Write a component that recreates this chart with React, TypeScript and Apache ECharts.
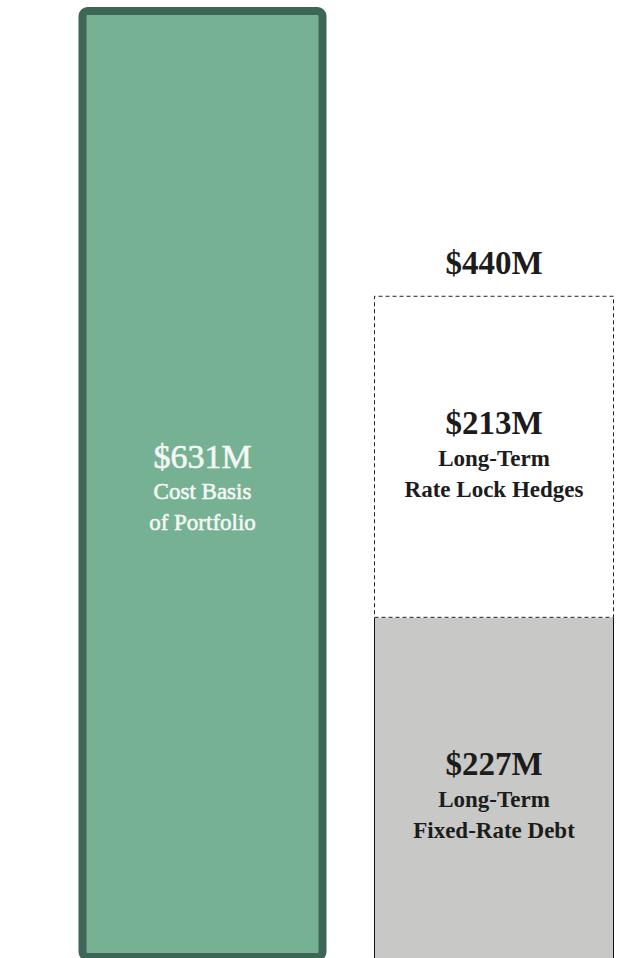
import React, { useEffect, useRef } from "react";
import * as echarts from "echarts";

const categories = ["Portfolio", "Capital"];
const portfolioValues: (number | string)[] = [631, "-"];
const fixedDebtValues: (number | string)[] = ["-", 227];
const hedgeValues: (number | string)[] = ["-", 213];
const portfolioLabel = ["$631M", "Cost Basis", "of Portfolio"];
const fixedDebtLabel = ["$227M", "Long-Term", "Fixed-Rate Debt"];
const hedgeLabel = ["$213M", "Long-Term", "Rate Lock Hedges"];

const FONT = "'Liberation Serif', 'DejaVu Serif', serif";
const GREEN_W = 248;
const RIGHT_W = 240;

function richLabel(lines: string[], color: string, weight: string, vSize: number, sSize: number, emb: number) {
  const extra = emb > 0 ? { textBorderColor: color, textBorderWidth: emb } : {};
  return {
    text: `{v|${lines[0]}}\n{s|${lines[1]}}\n{s|${lines[2]}}`,
    rich: {
      v: { fontFamily: FONT, fontSize: vSize, fontWeight: weight, lineHeight: 40, color, ...extra },
      s: { fontFamily: FONT, fontSize: sSize, fontWeight: weight, lineHeight: 31, color, ...extra },
    },
  };
}

export default function App() {
  const ref = useRef<HTMLDivElement>(null);
  useEffect(() => {
    if (!ref.current) return;
    const chart = echarts.init(ref.current, undefined, { renderer: "svg" });
    const debt = fixedDebtValues[1] as number;
    const hedge = hedgeValues[1] as number;
    const total = debt + hedge;
    const pl = richLabel(portfolioLabel, "#f4f8f5", "normal", 34, 23, 0.6);
    const dl = richLabel(fixedDebtLabel, "#1c1c1c", "bold", 33, 23, 0);
    const hl = richLabel(hedgeLabel, "#1c1c1c", "bold", 33, 23, 0);
    // right stack is drawn shifted by (GREEN_W - RIGHT_W) / 2 to the left of its band centre
    const shift = (GREEN_W - RIGHT_W) / 2;
    chart.setOption({
      animation: false,
      grid: { left: 54.75, width: 591, top: 7, height: 954 },
      xAxis: { type: "category", data: categories, show: false },
      yAxis: { type: "value", min: 0, max: 631, show: false, splitLine: { show: false } },
      series: [
        {
          type: "bar",
          stack: "r",
          barWidth: RIGHT_W,
          barGap: "-100%",
          data: fixedDebtValues,
          itemStyle: { color: "#c8c8c6" },
          label: {
            show: true,
            position: "inside",
            offset: [0, 6],
            formatter: dl.text,
            rich: dl.rich,
          },
        },
        {
          type: "bar",
          stack: "r",
          barWidth: RIGHT_W,
          barGap: "-100%",
          data: hedgeValues,
          itemStyle: { color: "#ffffff", borderColor: "#222222", borderWidth: 1, borderType: [4, 3] },
          label: {
            show: true,
            position: "inside",
            offset: [0, -3],
            formatter: hl.text,
            rich: hl.rich,
          },
        },
        {
          type: "bar",
          stack: "g",
          barWidth: GREEN_W,
          barGap: "-100%",
          data: portfolioValues,
          itemStyle: { color: "#76b194", borderColor: "#3e6656", borderWidth: 8, borderRadius: 5 },
          label: {
            show: true,
            position: "inside",
            offset: [0, 3],
            formatter: pl.text,
            rich: pl.rich,
          },
        },
        {
          type: "custom",
          data: [[1, debt, total]],
          silent: true,
          z: 5,
          renderItem: (params: any, api: any) => {
            const xi = api.value(0);
            const base = api.coord([xi, 0]);
            const top = api.coord([xi, api.value(1)]);
            const tot = api.coord([xi, api.value(2)]);
            const cx = base[0] - shift;
            const half = RIGHT_W / 2 - 0.5;
            return {
              type: "group",
              children: [
                {
                  type: "line",
                  shape: { x1: cx - half, y1: top[1], x2: cx - half, y2: base[1] },
                  style: { stroke: "#111111", lineWidth: 1 },
                },
                {
                  type: "line",
                  shape: { x1: cx + half, y1: top[1], x2: cx + half, y2: base[1] },
                  style: { stroke: "#111111", lineWidth: 1 },
                },
                {
                  type: "text",
                  x: cx,
                  y: tot[1] - 33,
                  style: {
                    text: `$${total}M`,
                    fontFamily: FONT,
                    fontSize: 33,
                    fontWeight: "bold",
                    fill: "#1c1c1c",
                    textAlign: "center",
                    textVerticalAlign: "middle",
                  },
                },
              ],
            };
          },
        },
      ],
    });
    return () => chart.dispose();
  }, []);
  return (
    <div
      style={{ position: "absolute", left: 0, top: 0, width: 632, height: 958, overflow: "hidden", background: "#ffffff" }}
    >
      <div ref={ref} style={{ width: 700, height: 970 }} />
    </div>
  );
}
